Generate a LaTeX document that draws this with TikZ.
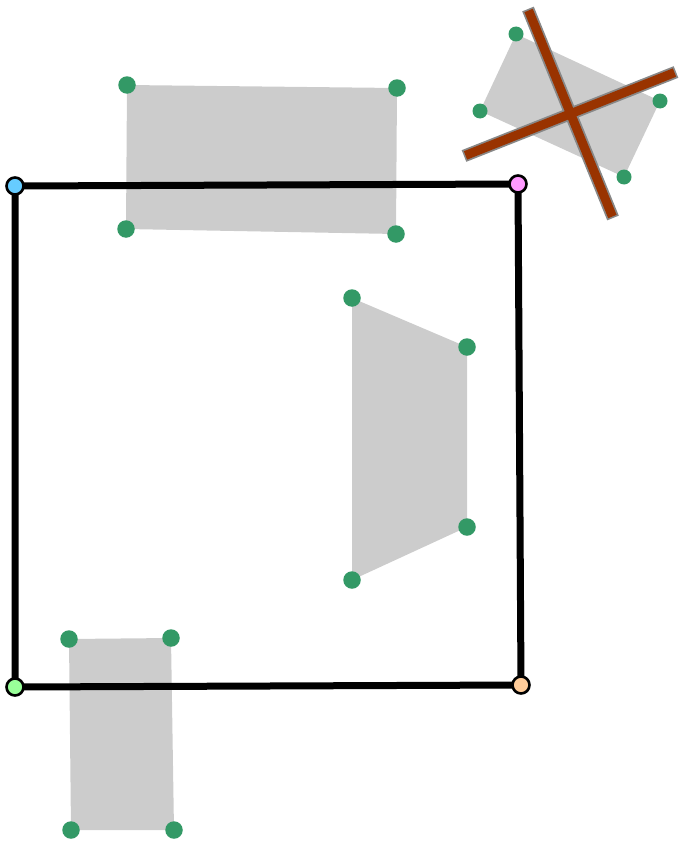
\documentclass[tikz,border=0pt]{standalone}
\begin{document}
\begin{tikzpicture}[x=1pt,y=-1pt,
  shade/.style={fill=shgray,draw=none},
  gdot/.style={circle,fill=dotgreen,inner sep=0pt,minimum size=17.5pt},
  sdot/.style={circle,fill=dotgreen,inner sep=0pt,minimum size=15pt},
  cdot/.style={circle,draw=black,line width=2.6pt,inner sep=0pt,minimum size=17pt},
  frame/.style={draw=black,line width=7pt,line join=miter},
  barout/.style={draw=bargray,line width=12.5pt},
  barin/.style={draw=barbrown,line width=9pt}]
\definecolor{shgray}{HTML}{CCCCCC}
\definecolor{dotgreen}{HTML}{339966}
\definecolor{barbrown}{HTML}{993300}
\definecolor{bargray}{HTML}{888888}
\definecolor{cblue}{HTML}{66CCFF}
\definecolor{cpink}{HTML}{FF99FF}
\definecolor{cgreen}{HTML}{99FF99}
\definecolor{corange}{HTML}{FFCC99}
\useasboundingbox (0,0) rectangle (679,843);
% coordinates
\coordinate (a1) at (127,85); \coordinate (a2) at (397,88); \coordinate (a3) at (396,234); \coordinate (a4) at (126,229);
\coordinate (b1) at (352,298); \coordinate (b2) at (467,347); \coordinate (b3) at (467,527); \coordinate (b4) at (352,580);
\coordinate (c1) at (69,639); \coordinate (c2) at (171,638); \coordinate (c3) at (174,830); \coordinate (c4) at (71,830);
\coordinate (d1) at (516,34); \coordinate (d2) at (660,101); \coordinate (d3) at (624,177); \coordinate (d4) at (480,111);
\coordinate (k1) at (15,186); \coordinate (k2) at (518,184); \coordinate (k3) at (521,685); \coordinate (k4) at (15,687);
\coordinate (l1s) at (528,9); \coordinate (l1e) at (613,218);
\coordinate (l2s) at (464,156); \coordinate (l2e) at (676,72);
% gray shapes
\path[shade] (a1) -- (a2) -- (a3) -- (a4) -- cycle;
\path[shade] (b1) -- (b2) -- (b3) -- (b4) -- cycle;
\path[shade] (c1) -- (c2) -- (c3) -- (c4) -- cycle;
\path[shade] (d1) -- (d2) -- (d3) -- (d4) -- cycle;
% frame
\draw[frame] (k1) -- (k2) -- (k3) -- (k4) -- cycle;
% bars
\draw[barout] (l1s) -- (l1e);
\draw[barout] (l2s) -- (l2e);
\draw[barin] ([shift={(0.6,1.5)}]l1s) -- ([shift={(-0.6,-1.5)}]l1e);
\draw[barin] ([shift={(1.5,-0.6)}]l2s) -- ([shift={(-1.5,0.6)}]l2e);
% dots
\foreach \p in {a1,a2,a3,a4,b1,b2,b3,b4,c1,c2,c3,c4} \node[gdot] (n\p) at (\p) {};
\foreach \p in {d1,d2,d3,d4} \node[sdot] (n\p) at (\p) {};
\node[cdot,fill=cblue] (nk1) at (k1) {};
\node[cdot,fill=cpink] (nk2) at (k2) {};
\node[cdot,fill=corange] (nk3) at (k3) {};
\node[cdot,fill=cgreen] (nk4) at (k4) {};
\end{tikzpicture}
\end{document}
